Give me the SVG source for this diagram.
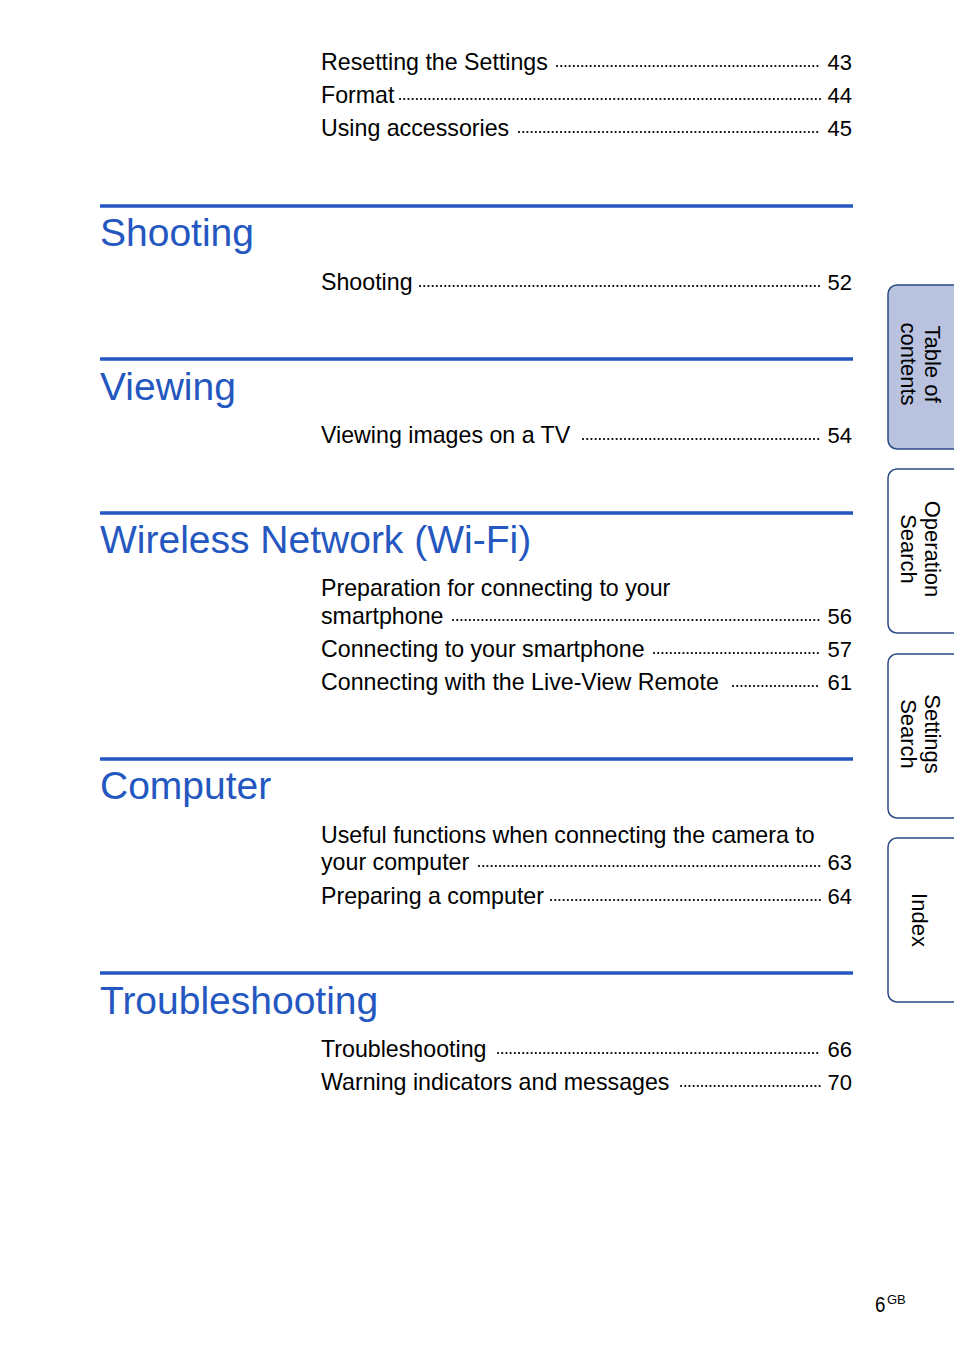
<svg xmlns="http://www.w3.org/2000/svg" width="954" height="1369" viewBox="0 0 954 1369">
<style>
.t{font-family:"Liberation Sans",Arial,sans-serif;font-size:23.2px;fill:#000}
.n{font-family:"Liberation Sans",Arial,sans-serif;font-size:22px;fill:#000;text-anchor:end}
.h{font-family:"Liberation Sans",Arial,sans-serif;font-size:39px;fill:#2457c0}
.r{stroke:#2457c0;stroke-width:3.5}
.d{stroke:#000;stroke-width:2.1;stroke-dasharray:0.1 4.1;stroke-linecap:round}
.tab{stroke:#2a4a86;stroke-width:1.5;fill:#fff}
.tt{font-family:"Liberation Sans",Arial,sans-serif;font-size:22px;fill:#000;text-anchor:middle}
</style>
<rect width="954" height="1369" fill="#fff"/>
<g id="top">
<text class="t" x="321" y="70">Resetting the Settings</text><line class="d" x1="557" y1="66" x2="820" y2="66"/><text class="n" x="852" y="70">43</text>
<text class="t" x="321" y="103">Format</text><line class="d" x1="400" y1="99" x2="820" y2="99"/><text class="n" x="852" y="103">44</text>
<text class="t" x="321" y="136">Using accessories</text><line class="d" x1="519" y1="132" x2="820" y2="132"/><text class="n" x="852" y="136">45</text>
</g>
<g id="shooting">
<line class="r" x1="100" y1="206" x2="853" y2="206"/>
<text class="h" x="100" y="246">Shooting</text>
<text class="t" x="321" y="290">Shooting</text><line class="d" x1="420" y1="286" x2="820" y2="286"/><text class="n" x="852" y="290">52</text>
</g>
<g id="viewing">
<line class="r" x1="100" y1="359" x2="853" y2="359"/>
<text class="h" x="100" y="400">Viewing</text>
<text class="t" x="321" y="443">Viewing images on a TV</text><line class="d" x1="583" y1="439" x2="820" y2="439"/><text class="n" x="852" y="443">54</text>
</g>
<g id="wifi">
<line class="r" x1="100" y1="513" x2="853" y2="513"/>
<text class="h" x="100" y="553">Wireless Network (Wi-Fi)</text>
<text class="t" x="321" y="596">Preparation for connecting to your</text>
<text class="t" x="321" y="624">smartphone</text><line class="d" x1="453" y1="620" x2="820" y2="620"/><text class="n" x="852" y="624">56</text>
<text class="t" x="321" y="657">Connecting to your smartphone</text><line class="d" x1="654" y1="653" x2="820" y2="653"/><text class="n" x="852" y="657">57</text>
<text class="t" x="321" y="690">Connecting with the Live-View Remote</text><line class="d" x1="733" y1="686" x2="820" y2="686"/><text class="n" x="852" y="690">61</text>
</g>
<g id="computer">
<line class="r" x1="100" y1="759" x2="853" y2="759"/>
<text class="h" x="100" y="799">Computer</text>
<text class="t" x="321" y="843">Useful functions when connecting the camera to</text>
<text class="t" x="321" y="870">your computer</text><line class="d" x1="479" y1="866" x2="820" y2="866"/><text class="n" x="852" y="870">63</text>
<text class="t" x="321" y="904">Preparing a computer</text><line class="d" x1="551" y1="900" x2="820" y2="900"/><text class="n" x="852" y="904">64</text>
</g>
<g id="troubleshooting">
<line class="r" x1="100" y1="973" x2="853" y2="973"/>
<text class="h" x="100" y="1014">Troubleshooting</text>
<text class="t" x="321" y="1057">Troubleshooting</text><line class="d" x1="498" y1="1053" x2="820" y2="1053"/><text class="n" x="852" y="1057">66</text>
<text class="t" x="321" y="1090">Warning indicators and messages</text><line class="d" x1="681" y1="1086" x2="820" y2="1086"/><text class="n" x="852" y="1090">70</text>
</g>
<g id="tabs">
<rect class="tab" x="888" y="285" width="90" height="164" rx="9" style="fill:#b9c3df"/>
<text class="tt" transform="translate(925,364) rotate(90)"><tspan x="0" y="0">Table of</tspan><tspan x="0" y="24">contents</tspan></text>
<rect class="tab" x="888" y="469" width="90" height="164" rx="9"/>
<text class="tt" transform="translate(925,549) rotate(90)"><tspan x="0" y="0">Operation</tspan><tspan x="0" y="24">Search</tspan></text>
<rect class="tab" x="888" y="654" width="90" height="164" rx="9"/>
<text class="tt" transform="translate(925,734) rotate(90)"><tspan x="0" y="0">Settings</tspan><tspan x="0" y="24">Search</tspan></text>
<rect class="tab" x="888" y="838" width="90" height="164" rx="9"/>
<text class="tt" transform="translate(912,920) rotate(90)">Index</text>
</g>
<text font-family="Liberation Sans,Arial,sans-serif" font-size="22" transform="translate(875,1312) scale(0.85,1)">6</text>
<text x="887" y="1304" font-family="Liberation Sans,Arial,sans-serif" font-size="13">GB</text>
</svg>
